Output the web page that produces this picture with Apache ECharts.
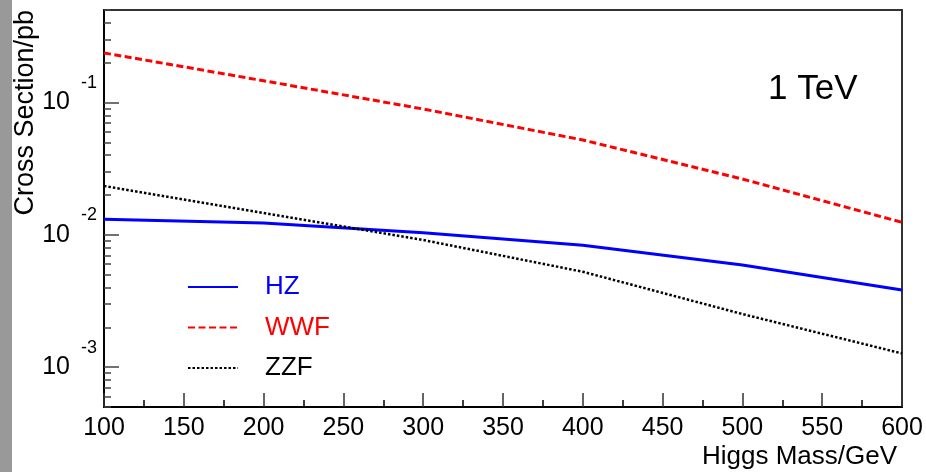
<!DOCTYPE html>
<html>
<head>
<meta charset="utf-8">
<script src="https://cdn.jsdelivr.net/npm/echarts@6/dist/echarts.min.js"></script>
<style>
  html, body { margin: 0; padding: 0; background: #fff; }
  #chart { width: 926px; height: 472px; }
</style>
</head>
<body>
<div id="chart"></div>
<script>
// Higgs cross sections at 1 TeV
const masses = [100, 200, 300, 400, 500, 600];
const hz = [0.0131, 0.0123, 0.01035, 0.00834, 0.00592, 0.00383];
const wwf = [0.237, 0.146, 0.0893, 0.0521, 0.0264, 0.01242];
const zzf = [0.0234, 0.01462, 0.00914, 0.00526, 0.00252, 0.00127];

const yMajor = [0.001, 0.01, 0.1];
const yExp = { 0.001: '-3', 0.01: '-2', 0.1: '-1' };

const font = 'Liberation Sans, Arial, sans-serif';

// minor ticks 2..9 of each decade
const yMinor = [];
[0.0001, 0.001, 0.01, 0.1].forEach(function (d) {
    for (let k = 2; k <= 9; k++) {
        const v = +(d * k).toPrecision(3);
        if (v >= 0.0005 && v <= 0.5) yMinor.push(v);
    }
});

function pairs(ys) {
    return masses.map(function (m, i) { return [m, ys[i]]; });
}

const chart = echarts.init(document.getElementById('chart'));

chart.setOption({
    backgroundColor: '#fff',
    animation: false,
    textStyle: { fontFamily: font },
    grid: {
        left: 104, right: 24, top: 10, bottom: 65,
        show: true, borderColor: '#333', borderWidth: 2,
        outerBoundsMode: 'none'
    },
    graphic: [
        { type: 'rect', left: 0, top: 0, shape: { width: 12, height: 472 }, style: { fill: '#999' } },
        {
            type: 'text', x: 26, y: 10, rotation: Math.PI / 2,
            style: { text: 'Cross Section/pb', fontSize: 27, fontFamily: font, fill: '#000', align: 'right', verticalAlign: 'middle' }
        },
        {
            type: 'text', x: 897, y: 457,
            style: { text: 'Higgs Mass/GeV', fontSize: 26, fontFamily: font, fill: '#000', align: 'right', verticalAlign: 'middle' }
        },
        {
            type: 'text', x: 768, y: 89,
            style: { text: '1 TeV', fontSize: 35, fontFamily: font, fill: '#000', align: 'left', verticalAlign: 'middle' }
        }
    ],
    legend: {
        orient: 'vertical',
        left: 187, top: 273, padding: 0,
        itemWidth: 50, itemHeight: 14, itemGap: 12.5,
        selectedMode: false,
        itemStyle: { opacity: 0 },
        textStyle: { fontSize: 26, lineHeight: 28, fontFamily: font, padding: [0, 0, 0, 22] },
        data: [
            { name: 'HZ', textStyle: { color: '#0000ff' } },
            { name: 'WWF', textStyle: { color: '#ff0000' } },
            { name: 'ZZF', textStyle: { color: '#000' } }
        ]
    },
    xAxis: {
        type: 'value', min: 100, max: 600, interval: 50,
        axisLine: { lineStyle: { color: '#000', width: 2 } },
        axisTick: { inside: true, length: 14, lineStyle: { color: '#333', width: 1.5 } },
        minorTick: { show: true, splitNumber: 2, length: 7, lineStyle: { color: '#000', width: 1.5 } },
        splitLine: { show: false },
        axisLabel: { fontSize: 25, color: '#000', margin: 9, fontFamily: font }
    },
    yAxis: [
        {
            type: 'log', min: 0.0005, max: 0.5,
            axisLine: { show: true, lineStyle: { color: '#000', width: 2 } },
            axisTick: { inside: true, length: 15, customValues: yMajor, lineStyle: { color: '#444', width: 1.5 } },
            splitLine: { show: false },
            axisLabel: {
                customValues: yMajor,
                margin: 7,
                color: '#000',
                formatter: function (v) {
                    const key = +(+v).toPrecision(3);
                    return '{b|10}{s|' + (yExp[key] || '') + '}';
                },
                rich: {
                    b: { fontSize: 25, fontFamily: font, color: '#000' },
                    s: { fontSize: 18, fontFamily: font, color: '#000', padding: [0, 0, 39, 11] }
                }
            }
        },
        {
            type: 'log', min: 0.0005, max: 0.5, position: 'left',
            axisLine: { show: false },
            axisTick: { inside: true, length: 7, customValues: yMinor, lineStyle: { color: '#444', width: 1.5 } },
            axisLabel: { show: false },
            splitLine: { show: false }
        }
    ],
    series: [
        {
            name: 'HZ', type: 'line', data: pairs(hz), symbol: 'none',
            lineStyle: { color: '#0000ff', width: 3, type: 'solid' },
            itemStyle: { color: '#0000ff' }
        },
        {
            name: 'WWF', type: 'line', data: pairs(wwf), symbol: 'none',
            lineStyle: { color: '#ff0000', width: 3, type: [7, 3.5] },
            itemStyle: { color: '#ff0000' }
        },
        {
            name: 'ZZF', type: 'line', data: pairs(zzf), symbol: 'none',
            lineStyle: { color: '#000', width: 2.5, type: [2.5, 2] },
            itemStyle: { color: '#000' }
        }
    ]
});
</script>
</body>
</html>
